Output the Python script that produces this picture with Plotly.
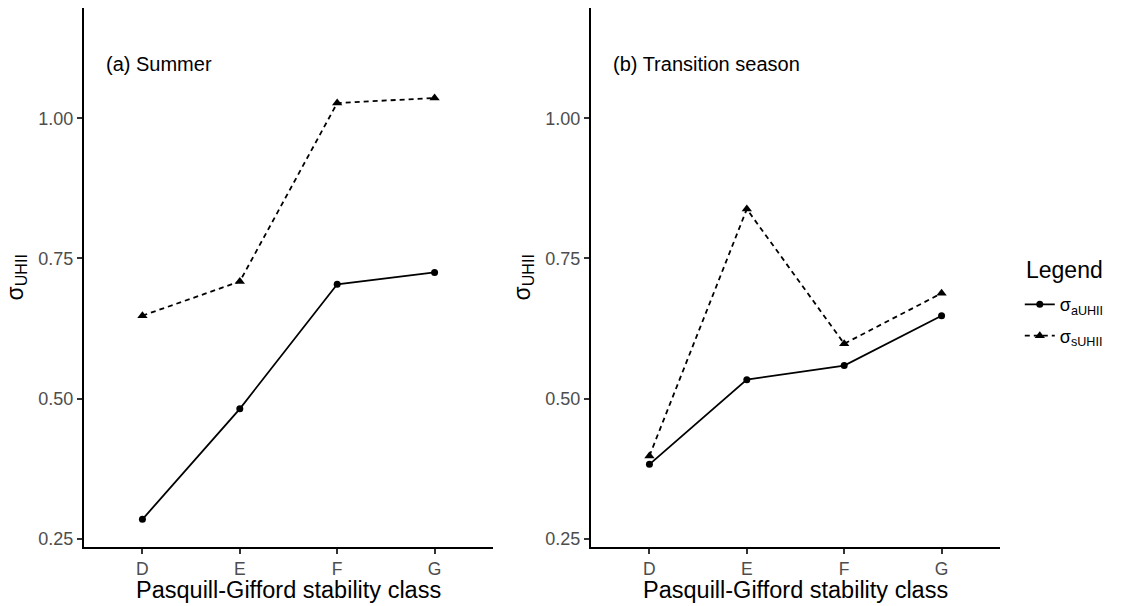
import plotly.graph_objects as go

classes = ["D", "E", "F", "G"]
summer_a = [0.285, 0.482, 0.704, 0.725]
summer_s = [0.648, 0.709, 1.027, 1.036]
trans_a = [0.383, 0.534, 0.559, 0.648]
trans_s = [0.398, 0.838, 0.598, 0.688]
y_ticks = [0.25, 0.50, 0.75, 1.00]
y_tick_labels = ["0.25", "0.50", "0.75", "1.00"]
panel_titles = ["(a) Summer", "(b) Transition season"]
series_names = ["σ<sub>aUHII</sub>", "σ<sub>sUHII</sub>"]
x_title = "Pasquill-Gifford stability class"
y_title = "σ<sub>UHII</sub>"
legend_title = "Legend"

FONT = "Liberation Sans, Arial, Helvetica, sans-serif"

fig = go.Figure()

panels = [(summer_a, summer_s, "x", "y"), (trans_a, trans_s, "x2", "y2")]
for i, (a, s, xa, ya) in enumerate(panels):
    fig.add_trace(go.Scatter(
        x=classes, y=a, xaxis=xa, yaxis=ya, mode="lines+markers",
        name=series_names[0], legendgroup="a", showlegend=(i == 0),
        line=dict(color="black", width=1.8),
        marker=dict(symbol="circle", size=7, color="black"),
    ))
    fig.add_trace(go.Scatter(
        x=classes, y=s, xaxis=xa, yaxis=ya, mode="lines+markers",
        name=series_names[1], legendgroup="s", showlegend=(i == 0),
        line=dict(color="black", width=1.8, dash="5px,4px"),
        marker=dict(symbol="triangle-up", size=9, color="black"),
    ))

xcommon = dict(
    type="category", categoryorder="array", categoryarray=classes,
    range=[-0.6, 3.6], showline=True, linecolor="black", linewidth=2,
    ticks="outside", ticklen=5, tickwidth=1.8, tickcolor="#333333",
    tickfont=dict(family=FONT, size=17.5, color="#4D4D4D"),
    showgrid=False, zeroline=False, automargin=False,
)
ycommon = dict(
    range=[0.2357, 1.1964], tickvals=y_ticks, ticktext=y_tick_labels,
    showline=True, linecolor="black", linewidth=2,
    ticks="outside", ticklen=5, tickwidth=1.8, tickcolor="#333333",
    tickfont=dict(family=FONT, size=18, color="#4D4D4D"),
    showgrid=False, zeroline=False, automargin=False,
)

fig.update_layout(
    width=1122, height=606, autosize=False,
    margin=dict(l=84, r=122, t=8, b=59, autoexpand=False),
    paper_bgcolor="white", plot_bgcolor="white",
    font=dict(family=FONT, color="black"),
    xaxis=dict(domain=[0, 0.4465], anchor="y", **xcommon),
    xaxis2=dict(domain=[0.5535, 1.0], anchor="y2", **xcommon),
    yaxis=dict(anchor="x", **ycommon),
    yaxis2=dict(anchor="x2", **ycommon),
    legend=dict(
        font=dict(family=FONT, size=18, color="black"),
        x=1.0216, xanchor="left", y=0.421, yanchor="middle",
        bgcolor="rgba(0,0,0,0)", tracegroupgap=5,
    ),
    showlegend=True,
)

# legend title
fig.add_annotation(
    x=(1024 - 84) / 916, y=(547 - 270) / 539, xref="paper", yref="paper",
    text=legend_title, showarrow=False, xanchor="left", yanchor="middle",
    font=dict(family=FONT, size=23, color="black"),
)

# panel labels
for xref, yref, txt in [("x domain", "y domain", panel_titles[0]),
                        ("x2 domain", "y2 domain", panel_titles[1])]:
    fig.add_annotation(
        x=0.05, y=0.896, xref=xref, yref=yref, text=txt, showarrow=False,
        xanchor="left", yanchor="middle",
        font=dict(family=FONT, size=20, color="black"),
    )

# x-axis titles
for xref in ["x domain", "x2 domain"]:
    fig.add_annotation(
        x=0.5, y=(547 - 590) / 539, xref=xref, yref="paper",
        text=x_title, showarrow=False, xanchor="center", yanchor="middle",
        font=dict(family=FONT, size=23.5, color="black"),
    )

# y-axis titles
for xpix in [16, 523]:
    fig.add_annotation(
        x=(xpix - 84) / 916, y=0.5, xref="paper", yref="paper",
        text=y_title, showarrow=False, textangle=-90,
        xanchor="center", yanchor="middle",
        font=dict(family=FONT, size=23, color="black"),
    )

fig.write_html(
    "out.html",
    config={"displayModeBar": False},
    post_script="document.body.style.margin='0';document.body.style.padding='0';",
)
